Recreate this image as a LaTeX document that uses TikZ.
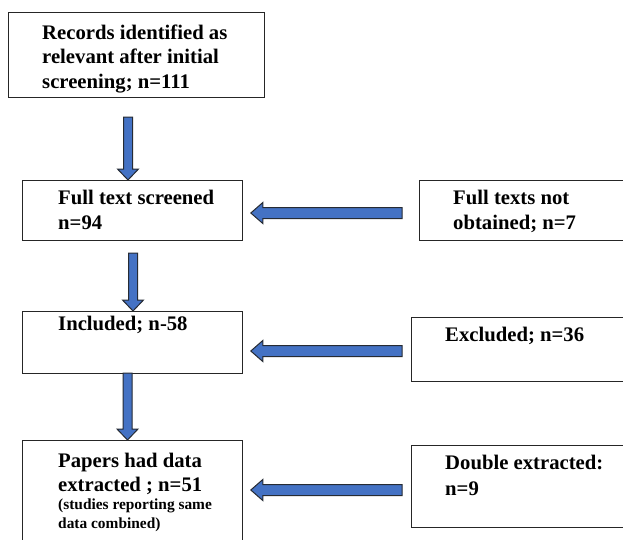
\documentclass[tikz,border=0pt]{standalone}
\usepackage{fontspec}
\setmainfont{Liberation Serif}
\usetikzlibrary{calc,positioning}
\definecolor{blkfill}{HTML}{4472C4}
\definecolor{blkedge}{HTML}{262B33}
\tikzset{
      box/.style = {draw=black!85, line width=0.8pt, anchor=north west, inner sep=0pt}, % <--- plain frames
      txt/.style = {anchor=base west, inner sep=0pt, align=left,
                    font=\fontsize{20.7}{24.5}\selectfont\bfseries},
    small/.style = {txt, font=\fontsize{15.4}{19}\selectfont\bfseries},
      blk/.style = {fill=blkfill, draw=blkedge, line width=1pt, line join=miter},
 down blk/.style = {blk, to path={let \p1=(\tikztostart), \p2=(\tikztotarget) in
                    (\x1-4.5,\y1) -- (\x1+4.5,\y1) -- (\x1+4.5,\y2+11) -- (\x1+10.5,\y2+11)
                    -- (\x1,\y2) -- (\x1-10.5,\y2+11) -- (\x1-4.5,\y2+11) -- cycle}},
 left blk/.style = {blk, to path={let \p1=(\tikztostart), \p2=(\tikztotarget) in
                    (\x1,\y1+5.5) -- (\x2+12,\y1+5.5) -- (\x2+12,\y1+10.5) -- (\x2,\y1)
                    -- (\x2+12,\y1-10.5) -- (\x2+12,\y1-5.5) -- (\x1,\y1-5.5) -- cycle}},
}
\begin{document}
\begin{tikzpicture}[x=1pt,y=-1pt]
  \useasboundingbox (0,0) rectangle (623,539);
  \clip (0,0) rectangle (623,539);
  % frames
  \node[box, minimum width=256pt, minimum height=85pt] (rec) at (8,12) {};
  \node[box, minimum width=220pt, minimum height=60pt] (full) at (22,180) {};
  \node[box, minimum width=230pt, minimum height=60pt] (notobt) at (419,180) {};
  \node[box, minimum width=220pt, minimum height=62pt] (incl) at (22,311) {};
  \node[box, minimum width=230pt, minimum height=64pt] (excl) at (411,317) {};
  \node[box, minimum width=220pt, minimum height=120pt] (extr) at (22,440) {};
  \node[box, minimum width=230pt, minimum height=82pt] (dbl) at (411,445) {};
  % texts (base = last line)
  \node[txt] (recT) at (42,88) {Records identified as\\relevant after initial\\screening; n=111};
  \node[txt, font=\fontsize{20.7}{25}\selectfont\bfseries] (fullT) at (58,229) {Full text screened\\n=94};
  \node[txt, font=\fontsize{20.7}{25}\selectfont\bfseries] (notobtT) at (453,229) {Full texts not\\obtained; n=7};
  \node[txt] (inclT) at (58,330) {Included; n-58};
  \node[txt] (exclT) at (445,341) {Excluded; n=36};
  \node[txt, font=\fontsize{20.7}{24}\selectfont\bfseries] (extrT) at (58,491) {Papers had data\\extracted ; n=51};
  \node[small] (extrS) at (58,528) {(studies reporting same\\data combined)};
  \node[txt, font=\fontsize{20.7}{26}\selectfont\bfseries] (dblT) at (445,495) {Double extracted:\\n=9};
  % block arrows
  \coordinate (d1) at (128,117);
  \coordinate (d2) at (133,253);
  \coordinate (d3) at (127.5,373);
  \coordinate (h1) at (402,213);
  \coordinate (h2) at (402,351);
  \coordinate (h3) at (402,490);
  \draw[down blk] (d1) to (full.north);
  \draw[down blk] (d2) to (incl.north);
  \draw[down blk] (d3) to (extr.north);
  \draw[left blk] (h1) to ([xshift=8pt]full.east);
  \draw[left blk] (h2) to ([xshift=8pt]incl.east);
  \draw[left blk] (h3) to ([xshift=8pt]extr.east);
\end{tikzpicture}
\end{document}
